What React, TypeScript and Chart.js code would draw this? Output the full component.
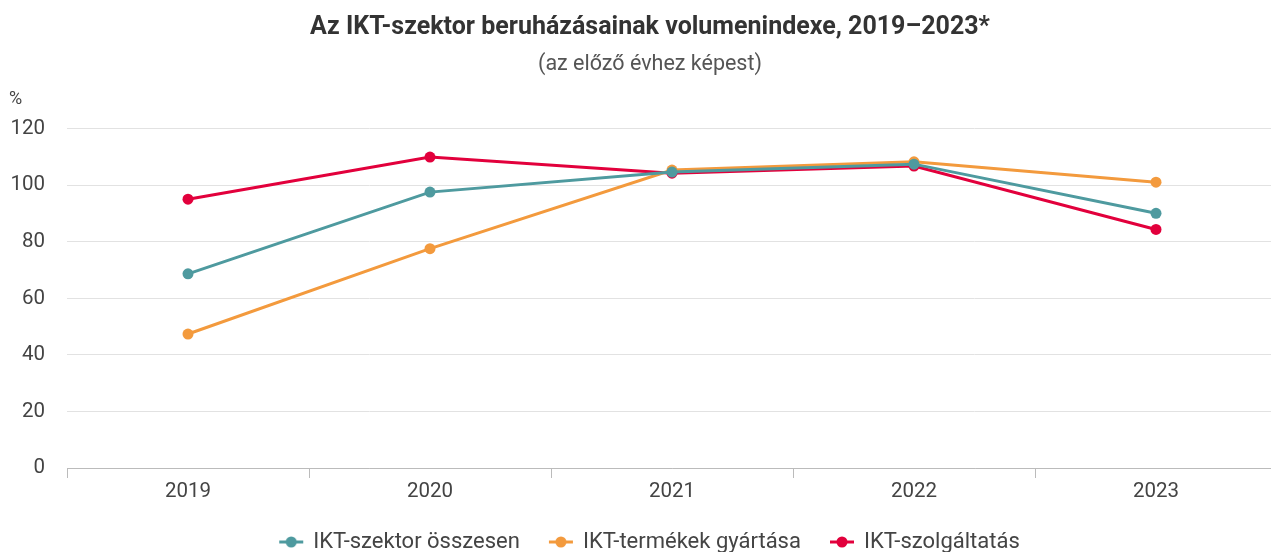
import React, { useEffect, useRef } from "react";
import { Chart, registerables } from "chart.js";

Chart.register(...registerables);

const years = ["2019", "2020", "2021", "2022", "2023"];
const osszesen = [68.7, 97.6, 104.7, 107.5, 90.1];
const termekek = [47.4, 77.6, 105.4, 108.3, 101.1];
const szolgaltatas = [95.1, 110.0, 104.3, 106.8, 84.4];
const seriesNames = ["IKT-szektor összesen", "IKT-termékek gyártása", "IKT-szolgáltatás"];
const seriesColors = ["#4e9a9f", "#f39a3d", "#e2003c"];
const titleText = "Az IKT-szektor beruházásainak volumenindexe, 2019–2023*";
const subtitleText = "(az előző évhez képest)";
const unitText = "%";

function markerImage(color: string): HTMLCanvasElement {
  const c = document.createElement("canvas");
  c.width = 26;
  c.height = 12;
  const ctx = c.getContext("2d")!;
  ctx.strokeStyle = color;
  ctx.lineWidth = 3;
  ctx.beginPath();
  ctx.moveTo(1, 6);
  ctx.lineTo(25, 6);
  ctx.stroke();
  ctx.fillStyle = color;
  ctx.beginPath();
  ctx.arc(13, 6, 5.5, 0, Math.PI * 2);
  ctx.fill();
  return c;
}

export default function App() {
  const ref = useRef<HTMLCanvasElement>(null);
  useEffect(() => {
    document.body.style.margin = "0";
    const markers = seriesColors.map(markerImage);
    const unitPlugin = {
      id: "unitLabel",
      afterDraw(chart: any) {
        const ctx = chart.ctx;
        ctx.save();
        ctx.font = "18px Roboto";
        ctx.fillStyle = "#444";
        ctx.textAlign = "left";
        ctx.textBaseline = "middle";
        ctx.fillText(unitText, 9, 99);
        ctx.restore();
      },
    };
    const mk = (i: number, data: number[]) => ({
      label: seriesNames[i],
      data,
      borderColor: seriesColors[i],
      backgroundColor: seriesColors[i],
      borderWidth: 3,
      pointRadius: 5.5,
      pointHoverRadius: 5.5,
      pointBorderWidth: 0,
      tension: 0,
    });
    const chart = new Chart(ref.current!, {
      type: "line",
      data: {
        labels: years,
        datasets: [mk(0, osszesen), mk(1, termekek), mk(2, szolgaltatas)],
      },
      options: {
        animation: false,
        responsive: false,
        layout: { padding: { left: 23, right: 23, top: 0, bottom: 2 } },
        plugins: {
          title: {
            display: true,
            text: titleText,
            color: "#333",
            font: { family: "Roboto", size: 25, weight: "bold" },
            padding: { top: 13, bottom: 9 },
          },
          subtitle: {
            display: true,
            text: subtitleText,
            color: "#555",
            font: { family: "Roboto", size: 21.5 },
            padding: { top: 0, bottom: 51 },
          },
          legend: {
            position: "bottom",
            labels: {
              usePointStyle: true,
              pointStyleWidth: 22,
              color: "#444",
              font: { family: "Roboto", size: 22 },
              padding: 30,
              generateLabels: (chart: any) =>
                chart.data.datasets.map((ds: any, i: number) => ({
                  text: ds.label,
                  fillStyle: seriesColors[i],
                  strokeStyle: seriesColors[i],
                  lineWidth: 0,
                  pointStyle: markers[i],
                  hidden: false,
                  datasetIndex: i,
                  fontColor: "#444",
                })),
            },
          },
          tooltip: { enabled: false },
        },
        scales: {
          x: {
            offset: true,
            afterFit: (scale: any) => {
              scale.height = 33;
            },
            grid: {
              offset: true,
              drawOnChartArea: false,
              drawTicks: true,
              tickLength: 10,
              color: "#bbb",
            },
            border: { color: "#bbb", width: 1 },
            ticks: {
              color: "#444",
              font: { family: "Roboto", size: 20.5 },
              padding: 2,
            },
          },
          y: {
            min: 0,
            max: 120,
            afterFit: (scale: any) => {
              scale.width = 44;
              scale._computeLabelArea = () => undefined;
            },
            ticks: {
              stepSize: 20,
              color: "#444",
              font: { family: "Roboto", size: 20.5 },
              padding: 22,
            },
            grid: { color: "#e2e2e2", drawTicks: false },
            border: { display: false },
          },
        },
      },
      plugins: [unitPlugin],
    });
    return () => chart.destroy();
  }, []);
  return (
    <div style={{ width: 1271, height: 552, overflow: "hidden" }}>
      <canvas ref={ref} width={1300} height={565} style={{ display: "block" }} />
    </div>
  );
}
